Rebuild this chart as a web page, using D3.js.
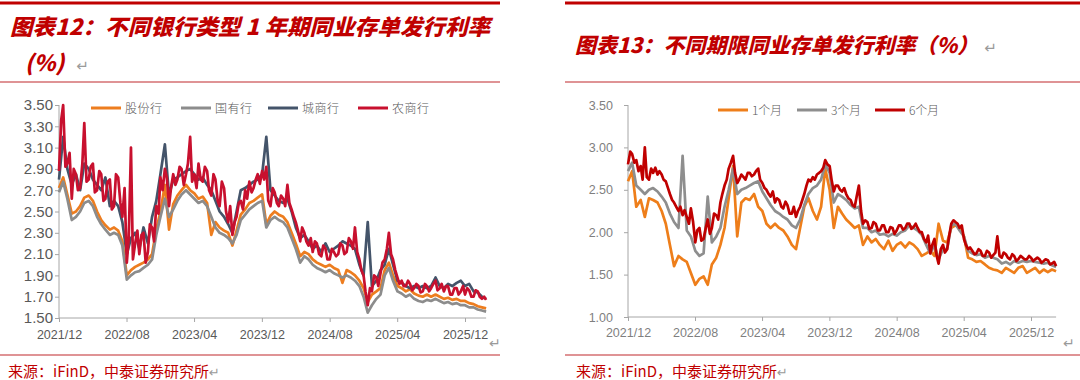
<!DOCTYPE html>
<html>
<head>
<meta charset="utf-8">
<script src="https://cdn.jsdelivr.net/npm/d3@7/dist/d3.min.js"></script>
<style>
  body { margin: 0; background: #fff; }
  svg { display: block; }
</style>
</head>
<body>
<svg id="chart" width="1080" height="380"></svg>
<script>
// values sampled every half month from 2021/12 (the noisiest ones every quarter month)
var tickLabels = ['2021/12', '2022/08', '2023/04', '2023/12', '2024/08', '2025/04', '2025/12'];
var yTicksLeft = [1.50, 1.70, 1.90, 2.10, 2.30, 2.50, 2.70, 2.90, 3.10, 3.30, 3.50];
var yTicksRight = [1.00, 1.50, 2.00, 2.50, 3.00, 3.50];

var bankNames = ['股份行', '国有行', '城商行', '农商行'];
var termNames = ['1个月', '3个月', '6个月'];

var gufen = [
  2.72, 2.82, 2.66, 2.48, 2.50, 2.55, 2.63, 2.65, 2.60, 2.50,
  2.42, 2.37, 2.33, 2.35, 2.32, 2.22, 1.90, 1.95, 1.98, 2.00,
  2.02, 2.05, 2.10, 2.33, 2.50, 2.75, 2.33, 2.57, 2.65, 2.70,
  2.75, 2.70, 2.67, 2.62, 2.64, 2.58, 2.28, 2.40, 2.35, 2.32,
  2.30, 2.18, 2.32, 2.47, 2.52, 2.58, 2.60, 2.63, 2.66, 2.38,
  2.46, 2.50, 2.47, 2.45, 2.40, 2.30, 2.20, 2.08, 2.12, 2.10,
  2.05, 2.02, 2.00, 1.98, 2.00, 1.97, 1.95, 1.83, 1.95, 1.93,
  1.90, 1.85, 1.78, 1.65, 1.72, 1.75, 1.78, 1.95, 2.02, 1.90,
  1.80, 1.78, 1.75, 1.77, 1.73, 1.71, 1.70, 1.72, 1.70, 1.72,
  1.70, 1.68, 1.69, 1.67, 1.68, 1.66, 1.66, 1.64, 1.63, 1.61,
  1.60, 1.59
];
var guoyou = [
  2.68, 2.78, 2.62, 2.42, 2.45, 2.50, 2.58, 2.60, 2.55, 2.45,
  2.38, 2.33, 2.28, 2.30, 2.28, 2.18, 1.86, 1.90, 1.93, 1.94,
  1.97, 2.00, 2.05, 2.28, 2.45, 2.62, 2.45, 2.52, 2.60, 2.66,
  2.70, 2.66, 2.62, 2.58, 2.60, 2.55, 2.45, 2.35, 2.30, 2.28,
  2.25, 2.20, 2.28, 2.42, 2.47, 2.52, 2.55, 2.58, 2.60, 2.35,
  2.42, 2.45, 2.42, 2.40, 2.35, 2.25, 2.15, 2.02, 2.08, 2.05,
  2.00, 1.97, 1.95, 1.93, 1.95, 1.92, 1.90, 1.88, 1.90, 1.88,
  1.85, 1.80, 1.70, 1.55, 1.62, 1.68, 1.72, 1.90, 1.97, 1.85,
  1.75, 1.73, 1.70, 1.72, 1.68, 1.66, 1.65, 1.67, 1.66, 1.68,
  1.66, 1.64, 1.65, 1.63, 1.64, 1.62, 1.62, 1.60, 1.60, 1.58,
  1.57, 1.56
];
var chengshang = [
  2.80, 3.20, 2.90, 2.75, 2.85, 2.70, 2.95, 2.90, 2.80, 2.75,
  2.70, 2.82, 2.55, 2.60, 2.55, 2.40, 2.10, 2.25, 2.30, 2.15,
  2.35, 2.20, 2.45, 2.60, 2.85, 3.13, 2.65, 2.80, 2.82, 2.85,
  2.88, 2.90, 2.85, 2.80, 2.82, 2.75, 2.70, 2.60, 2.50, 2.45,
  2.38, 2.30, 2.50, 2.70, 2.72, 2.75, 2.78, 2.80, 2.85, 3.20,
  2.70, 2.65, 2.60, 2.58, 2.62, 2.50, 2.35, 2.25, 2.28, 2.22,
  2.15, 2.18, 2.12, 2.20, 2.12, 2.15, 2.18, 2.22, 2.20, 2.18,
  2.15, 2.00, 1.90, 2.40, 1.80, 1.85, 1.95, 2.00, 2.15, 2.00,
  1.85, 1.83, 1.80, 1.78, 1.80, 1.78, 1.80, 1.78, 1.80, 1.88,
  1.80, 1.78, 1.82, 1.80, 1.83, 1.85, 1.80, 1.82, 1.75, 1.74,
  1.70, 1.68
];
// quarter-month steps
var nongshang = [
  2.88, 3.36, 3.50, 2.92, 2.95, 3.05, 2.62, 2.90,
  2.85, 2.70, 2.72, 2.95, 3.33, 2.78, 2.80, 2.92,
  2.95, 2.68, 2.70, 2.88, 2.85, 2.60, 2.62, 2.78,
  2.80, 2.52, 2.55, 2.85, 2.82, 2.58, 2.45, 2.72,
  2.02, 2.25, 3.10, 2.05, 2.20, 2.32, 2.10, 2.28,
  2.30, 2.02, 2.12, 2.38, 2.35, 2.22, 2.55, 2.48,
  2.82, 2.70, 2.90, 2.82, 2.55, 2.72, 2.85, 2.75,
  2.80, 2.92, 2.90, 2.75, 2.85, 2.95, 3.20, 2.78,
  2.85, 2.72, 2.95, 2.80, 2.78, 2.92, 2.88, 2.70,
  2.65, 2.85, 2.80, 2.60, 2.55, 2.78, 2.72, 2.50,
  2.40, 2.55, 2.28, 2.40, 2.45, 2.58, 2.60, 2.52,
  2.70, 2.62, 2.78, 2.68, 2.72, 2.80, 2.85, 2.76,
  2.88, 2.80, 2.92, 2.60, 2.55, 2.72, 2.68, 2.58,
  2.55, 2.65, 2.62, 2.55, 2.75, 2.58, 2.52, 2.45,
  2.40, 2.32, 2.22, 2.35, 2.30, 2.22, 2.18, 2.25,
  2.12, 2.22, 2.20, 2.10, 2.08, 2.18, 2.15, 2.05,
  2.05, 2.15, 2.12, 2.08, 2.10, 2.20, 2.18, 2.10,
  2.12, 2.25, 2.22, 2.15, 2.35, 2.12, 2.05, 1.95,
  1.90, 1.75, 1.62, 1.78, 1.75, 1.90, 1.88, 1.80,
  1.92, 2.02, 2.05, 2.15, 2.30, 2.10, 2.05, 1.95,
  1.88, 1.82, 1.85, 1.80, 1.80, 1.85, 1.82, 1.76,
  1.78, 1.82, 1.80, 1.74, 1.75, 1.82, 1.80, 1.75,
  1.78, 1.82, 1.85, 1.76, 1.78, 1.82, 1.75, 1.80,
  1.80, 1.72, 1.72, 1.78, 1.78, 1.72, 1.75, 1.80,
  1.72, 1.78, 1.76, 1.70, 1.70, 1.76, 1.75, 1.70,
  1.68, 1.70, 1.67
];

var yue1 = [
  2.60, 2.72, 2.30, 2.38, 2.18, 2.40, 2.38, 2.35, 2.25, 2.10,
  1.85, 1.60, 1.72, 1.68, 1.65, 1.52, 1.38, 1.45, 1.48, 1.38,
  1.62, 1.70, 1.85, 2.05, 2.40, 2.78, 1.95, 2.35, 2.40, 2.38,
  2.45, 2.30, 2.25, 2.10, 2.05, 2.10, 2.05, 2.02, 1.95, 1.85,
  1.80, 2.05, 2.30, 2.40, 2.25, 2.15, 2.30, 2.75, 2.50, 2.05,
  2.30, 2.22, 2.15, 2.10, 2.05, 2.08, 1.85, 1.95, 1.88, 1.92,
  1.85, 1.80, 1.90, 1.78, 1.85, 1.88, 1.82, 1.88, 1.85, 1.80,
  1.72, 1.75, 1.78, 1.72, 2.10, 1.90, 1.88, 2.05, 2.08, 2.05,
  1.95, 1.70, 1.68, 1.65, 1.66, 1.62, 1.58, 1.56, 1.55, 1.52,
  1.58, 1.55, 1.52, 1.58, 1.60, 1.52, 1.55, 1.58, 1.52, 1.56,
  1.53, 1.56, 1.54
];
var yue3 = [
  2.72, 2.82, 2.55, 2.50, 2.45, 2.50, 2.52, 2.48, 2.42, 2.35,
  2.22, 2.12, 2.05, 2.90, 2.02, 1.95, 1.78, 1.72, 1.75, 2.42,
  1.88, 1.95, 2.05, 2.30, 2.50, 2.75, 2.45, 2.50, 2.52, 2.55,
  2.58, 2.60, 2.48, 2.40, 2.32, 2.25, 2.22, 2.18, 2.15, 2.08,
  2.05, 2.15, 2.32, 2.45, 2.52, 2.55, 2.62, 2.80, 2.70, 2.35,
  2.45, 2.42, 2.38, 2.32, 2.28, 2.30, 2.05, 2.05, 2.00, 2.02,
  1.97, 1.98, 1.95, 1.98, 1.96, 2.00, 2.02, 2.08, 2.05, 2.02,
  1.97, 1.85, 1.75, 1.85, 1.68, 1.80, 1.80, 2.08, 2.10, 2.02,
  1.95, 1.78, 1.75, 1.73, 1.74, 1.70, 1.72, 1.70, 1.68, 1.63,
  1.65, 1.62, 1.66, 1.64, 1.66, 1.65, 1.66, 1.65, 1.64, 1.63,
  1.64, 1.61, 1.59
];
// quarter-month steps
var yue6 = [
  2.80, 2.95, 2.92, 2.82, 2.85, 2.72, 2.78, 2.62,
  3.00, 2.65, 2.62, 2.75, 2.70, 2.76, 2.68, 2.72,
  2.68, 2.62, 2.60, 2.52, 2.45, 2.38, 2.35, 2.30,
  2.25, 2.30, 2.20, 2.26, 2.18, 2.10, 2.28, 2.12,
  1.88, 2.02, 2.05, 1.90, 1.92, 2.05, 2.15, 1.98,
  2.05, 2.22, 2.20, 2.15, 2.35, 2.45, 2.55, 2.62,
  2.75, 2.82, 2.90, 2.70, 2.58, 2.62, 2.68, 2.65,
  2.62, 2.70, 2.70, 2.66, 2.68, 2.72, 2.75, 2.62,
  2.58, 2.52, 2.50, 2.45, 2.42, 2.48, 2.35, 2.40,
  2.38, 2.30, 2.28, 2.36, 2.32, 2.22, 2.22, 2.30,
  2.18, 2.25, 2.30, 2.38, 2.45, 2.55, 2.62, 2.60,
  2.65, 2.62, 2.68, 2.70, 2.72, 2.76, 2.85, 2.80,
  2.78, 2.62, 2.48, 2.55, 2.55, 2.50, 2.48, 2.52,
  2.45, 2.40, 2.38, 2.32, 2.30, 2.42, 2.55, 2.25,
  2.10, 2.14, 2.12, 2.04, 2.05, 2.12, 2.10, 2.02,
  2.02, 2.08, 2.08, 2.00, 2.00, 2.06, 2.05, 1.98,
  2.02, 2.08, 2.08, 2.03, 2.05, 2.10, 2.10, 2.04,
  2.06, 2.10, 2.05, 2.00, 2.00, 1.92, 1.88, 1.96,
  1.75, 1.85, 1.92, 1.72, 1.63, 1.80, 1.85, 1.76,
  1.80, 1.95, 2.10, 2.14, 2.12, 2.10, 2.05, 2.08,
  1.92, 1.85, 1.80, 1.82, 1.78, 1.74, 1.75, 1.80,
  1.78, 1.72, 1.72, 1.78, 1.76, 1.70, 1.73, 1.76,
  1.95, 1.72, 1.70, 1.76, 1.74, 1.70, 1.68, 1.74,
  1.72, 1.66, 1.68, 1.72, 1.70, 1.68, 1.68, 1.72,
  1.70, 1.66, 1.68, 1.70, 1.68, 1.64, 1.66, 1.68,
  1.67, 1.62, 1.63, 1.65, 1.60
];

var svg = d3.select('#chart');
var parseMonth = d3.timeParse('%Y/%m');
var start = parseMonth(tickLabels[0]);
var tickDates = tickLabels.map(function(d){return parseMonth(d);});

// long arrays are quarter-month samples, short ones half-month
var dated = function(values) {
  var step = values.length > 150 ? 7.61 : 15.22;
  return values.map(function(v, i){
    return {date: d3.timeDay.offset(start, Math.round(i * step)), value: v};
  });
};

svg.append('rect')
    .attr('width', 1080)
    .attr('height', 380)
    .attr('fill', '#fff')
    ;

// frame rules of both panels
var frames = [[0, 500], [565, 1080]];
frames.forEach(function(f){
  svg.append('rect').attr('x', f[0]).attr('y', 1.5).attr('width', f[1] - f[0]).attr('height', 3).attr('fill', '#C00000');
  svg.append('rect').attr('x', f[0]).attr('y', 81.5).attr('width', f[1] - f[0]).attr('height', 1).attr('fill', '#C0282D');
  svg.append('rect').attr('x', f[0]).attr('y', 354.5).attr('width', f[1] - f[0]).attr('height', 1).attr('fill', '#C0282D');
});

var titleStyle = function(sel) {
  sel.attr('font-family', '"Noto Sans CJK SC", sans-serif')
     .attr('font-weight', 900)
     .attr('font-style', 'italic')
     .attr('fill', '#C00000')
     .attr('font-size', 22);
};

var returnStyle = function(sel) {
  sel.attr('font-family', '"DejaVu Sans", sans-serif')
     .attr('font-weight', 400)
     .attr('font-style', 'normal')
     .attr('fill', '#9A9A9A');
};

svg.append('text')
    .call(titleStyle)
    .attr('x', 10).attr('y', 35)
    .attr('textLength', 480).attr('lengthAdjust', 'spacingAndGlyphs')
    .text('图表12：不同银行类型 1 年期同业存单发行利率');

var title12b = svg.append('text')
    .call(titleStyle)
    .attr('x', 25).attr('y', 71);
title12b.append('tspan').text('(%)');
title12b.append('tspan').call(returnStyle).attr('dx', 12).attr('font-size', 15).text('↵');

var title13 = svg.append('text')
    .call(titleStyle)
    .attr('font-size', 21)
    .attr('x', 575).attr('y', 53);
title13.append('tspan').text('图表13：不同期限同业存单发行利率（%）');
title13.append('tspan').call(returnStyle).attr('dx', 6).attr('font-size', 15).text('↵');

var returnMark = function(x, y, size) {
  svg.append('text')
      .call(returnStyle)
      .attr('x', x).attr('y', y)
      .attr('font-size', size)
      .text('↵');
};
returnMark(489, 348, 14);
returnMark(1063, 348, 14);

[8, 576].forEach(function(x){
  var src = svg.append('text')
      .attr('x', x).attr('y', 377)
      .attr('font-family', '"Noto Sans CJK SC", sans-serif')
      .attr('font-size', 15)
      .attr('fill', '#C00000');
  src.append('tspan').text('来源：iFinD，中泰证券研究所');
  src.append('tspan').call(returnStyle).attr('font-size', 13).text('↵');
});

var drawpanel = function(p) {
  var x = d3.scaleTime().domain([tickDates[0], tickDates[tickDates.length - 1]]).range(p.xRange);
  var y = d3.scaleLinear().domain(p.yDomain).range(p.yRange);
  var g = svg.append('g');

  var yAxis = g.append('g')
      .attr('transform', 'translate(' + p.xRange[0] + ',0)')
      .call(d3.axisLeft(y).tickValues(p.yTicks).tickFormat(d3.format('.2f'))
            .tickSize(4).tickPadding(p.yPad).tickSizeOuter(0))
      ;
  yAxis.select('.domain').remove();
  yAxis.selectAll('line').attr('stroke', '#A6A6A6');
  yAxis.selectAll('text')
      .attr('font-family', '"Liberation Sans", Arial, sans-serif')
      .attr('font-size', p.yFont)
      .attr('fill', p.labelColor);

  var xAxis = g.append('g')
      .attr('transform', 'translate(0,' + p.yRange[0] + ')')
      .call(d3.axisBottom(x).tickValues(tickDates)
            .tickFormat(function(d, i){return tickLabels[i];})
            .tickSize(4).tickPadding(p.xPad).tickSizeOuter(0))
      ;
  xAxis.select('.domain').remove();
  xAxis.selectAll('line').attr('stroke', '#A6A6A6');
  xAxis.selectAll('text')
      .attr('font-family', '"Liberation Sans", Arial, sans-serif')
      .attr('font-size', p.xFont)
      .attr('fill', p.labelColor);

  var series = p.series.map(function(s){return dated(s);});
  var lastDate = d3.max(series, function(s){return s[s.length - 1].date;});

  g.append('line')
      .attr('x1', p.xRange[0]).attr('x2', p.xRange[0])
      .attr('y1', y(p.yDomain[0])).attr('y2', y(p.yDomain[1]))
      .attr('stroke', '#A6A6A6');
  g.append('line')
      .attr('x1', p.xRange[0]).attr('x2', x(lastDate))
      .attr('y1', p.yRange[0]).attr('y2', p.yRange[0])
      .attr('stroke', '#A6A6A6');

  var line = d3.line()
      .x(function(d){return x(d.date);})
      .y(function(d){return y(d.value);});

  g.selectAll('path.series')
      .data(series)
      .enter().append('path')
      .attr('class', 'series')
      .attr('d', line)
      .attr('fill', 'none')
      .attr('stroke', function(d, i){return p.colors[i];})
      .attr('stroke-width', 2.7)
      .attr('stroke-linejoin', 'round')
      ;

  var legend = g.selectAll('g.legend')
      .data(p.names)
      .enter().append('g')
      .attr('class', 'legend')
      .attr('transform', function(d, i){return 'translate(' + p.legendX[i] + ',' + p.legendY + ')';});
  legend.append('line')
      .attr('x1', 0).attr('x2', 30)
      .attr('stroke', function(d, i){return p.colors[i];})
      .attr('stroke-width', 3);
  legend.append('text')
      .attr('x', 34).attr('y', 4.5)
      .attr('font-family', '"Noto Sans CJK SC", sans-serif')
      .attr('font-weight', 300)
      .attr('font-size', 12)
      .attr('fill', '#595959')
      .attr('textLength', p.legendText)
      .attr('lengthAdjust', 'spacing')
      .text(function(d){return d;});
};

drawpanel({
  xRange: [59, 465], yDomain: [1.5, 3.5], yRange: [318, 105],
  yTicks: yTicksLeft, yPad: 2, xPad: 8, yFont: 15, xFont: 12.5, labelColor: '#595959',
  series: [gufen, guoyou, chengshang, nongshang],
  colors: ['#ED7D1F', '#8C8C8C', '#44546A', '#C8102E'],
  names: bankNames, legendX: [91, 181, 268, 358], legendY: 108, legendText: 37
});

drawpanel({
  xRange: [628, 1031], yDomain: [1.0, 3.5], yRange: [317, 105],
  yTicks: yTicksRight, yPad: 11, xPad: 7, yFont: 12.5, xFont: 12.5, labelColor: '#7F7F7F',
  series: [yue1, yue3, yue6],
  colors: ['#EE7E1A', '#8E8E8E', '#C00000'],
  names: termNames, legendX: [718, 797, 875], legendY: 110, legendText: 30
});
</script>
</body>
</html>
